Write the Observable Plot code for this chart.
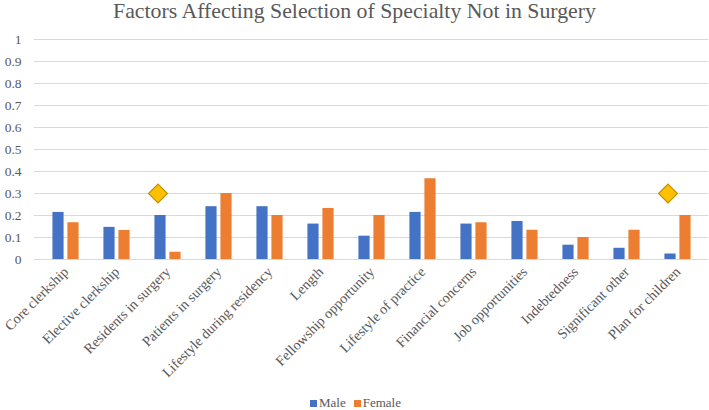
<!DOCTYPE html>
<html>
<head>
<meta charset="utf-8">
<script src="https://cdn.jsdelivr.net/npm/d3@7"></script>
<script src="https://cdn.jsdelivr.net/npm/@observablehq/plot@0.6"></script>
<style>
  body { margin: 0; background: #fff; }
  #wrap { width: 709px; height: 410px; font-family: "Times New Roman", "Liberation Serif", "DejaVu Serif", serif; color: #595959; overflow: hidden; }
  #title { height: 22px; line-height: 22px; font-size: 21.8px; text-align: center; white-space: nowrap; }
  #chart svg { display: block; }
  #chart svg text { font-family: "Times New Roman", "Liberation Serif", "DejaVu Serif", serif !important; fill: #595959; }
  #legend { height: 15px; line-height: 15px; font-size: 13px; text-align: center; padding-left: 2px; }
  .sw { display: inline-block; width: 7px; height: 7px; margin-right: 2px; vertical-align: 0px; }
  .item { margin: 0 4px; }
</style>
</head>
<body>
<div id="wrap">
  <div id="title">Factors Affecting Selection of Specialty Not in Surgery</div>
  <div id="chart"></div>
  <div id="legend"></div>
</div>
<script>
const categories = ["Core clerkship", "Elective clerkship", "Residents in surgery", "Patients in surgery",
  "Lifestyle during residency", "Length", "Fellowship opportunity", "Lifestyle of practice",
  "Financial concerns", "Job opportunities", "Indebtedness", "Significant other", "Plan for children"];
const male   = [0.214, 0.146, 0.200, 0.240, 0.240, 0.161, 0.106, 0.214, 0.161, 0.173, 0.065, 0.051, 0.025];
const female = [0.167, 0.132, 0.033, 0.300, 0.200, 0.232, 0.200, 0.367, 0.167, 0.133, 0.100, 0.133, 0.200];
const markerCategories = ["Residents in surgery", "Plan for children"];
const markerValues = [0.3, 0.3];
const yTicks = [0, 0.1, 0.2, 0.3, 0.4, 0.5, 0.6, 0.7, 0.8, 0.9, 1];
const seriesNames = ["Male", "Female"];
const seriesColors = ["#4472C4", "#ED7D31"];

const maleData = categories.map((c, i) => ({category: c, value: male[i]}));
const femaleData = categories.map((c, i) => ({category: c, value: female[i]}));
const markerData = markerCategories.map((c, i) => ({category: c, value: markerValues[i]}));

const W = 709, H = 373, ML = 34, MR = 1;
const band = (W - ML - MR) / categories.length;
const half = band / 2;
const serif = "'Times New Roman', 'Liberation Serif', 'DejaVu Serif', serif";

const chart = Plot.plot({
  width: W,
  height: H,
  marginLeft: ML,
  marginRight: MR,
  marginTop: 17,
  marginBottom: 136,
  style: { fontFamily: serif, fontSize: "13px", color: "#595959", background: "#fff" },
  x: { domain: categories, padding: 0, label: null, tickSize: 0, tickPadding: 10, tickRotate: -45 },
  y: { domain: [0, 1], ticks: yTicks, tickFormat: d => String(d), label: null, tickSize: 0, tickPadding: 13 },
  marks: [
    Plot.ruleY(yTicks, { stroke: "#D9D9D9", strokeWidth: 1 }),
    Plot.barY(maleData, { x: "category", y: "value", fill: seriesColors[0],
      insetLeft: half - 13.5, insetRight: half + 1.5 }),
    Plot.barY(femaleData, { x: "category", y: "value", fill: seriesColors[1],
      insetLeft: half + 1.5, insetRight: half - 13.5 }),
    Plot.dot(markerData, { x: "category", y: "value", symbol: "diamond2", r: 8.5, dx: -10,
      fill: "#FFC000", stroke: "#BF9000", strokeWidth: 1.2 })
  ]
});
document.getElementById("chart").appendChild(chart);
chart.querySelectorAll("text").forEach(t => {
  t.setAttribute("font-family", serif);
  t.style.fontFamily = serif;
});
chart.querySelectorAll('[aria-label="x-axis tick label"] text').forEach(t => { t.style.fontSize = "14.2px"; });
chart.querySelectorAll('[aria-label="y-axis tick label"] text').forEach(t => { t.style.fontSize = "13.5px"; });

const legend = document.getElementById("legend");
seriesNames.forEach((n, i) => {
  const s = document.createElement("span");
  s.className = "item";
  s.innerHTML = `<span class="sw" style="background:${seriesColors[i]}"></span>${n}`;
  legend.appendChild(s);
});
</script>
</body>
</html>
